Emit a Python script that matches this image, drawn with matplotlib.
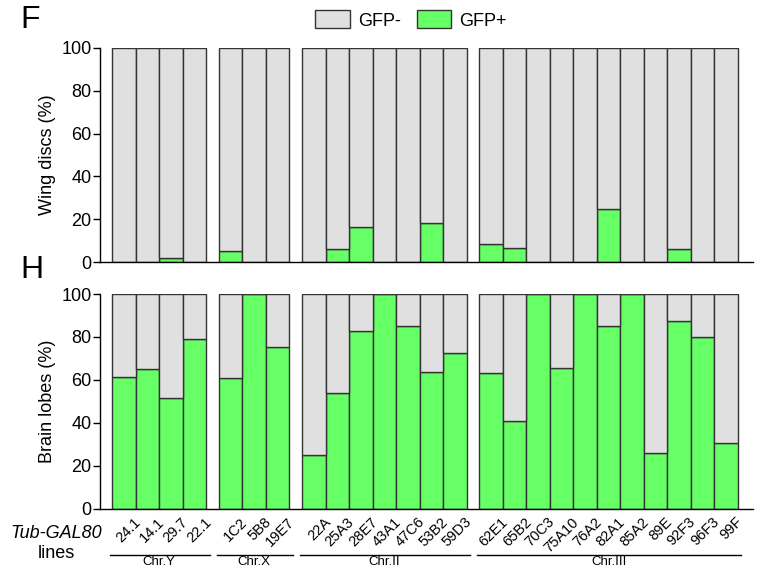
import matplotlib
matplotlib.use("Agg")
import matplotlib.pyplot as plt
from matplotlib.patches import Patch
import matplotlib.transforms as mtransforms
import numpy as np

plt.rcParams['font.family'] = ['Liberation Sans', 'DejaVu Sans']

groups = ["Chr.Y", "Chr.X", "Chr.II", "Chr.III"]
group_lines = [
    ["24.1", "14.1", "29.7", "22.1"],
    ["1C2", "5B8", "19E7"],
    ["22A", "25A3", "28E7", "43A1", "47C6", "53B2", "59D3"],
    ["62E1", "65B2", "70C3", "75A10", "76A2", "82A1", "85A2", "89E", "92F3", "96F3", "99F"],
]
wing_gfp_pos = [0, 0, 2.0, 0,
                5.1, 0, 0,
                0, 6.2, 16.5, 0, 0, 18.2, 0,
                8.4, 6.5, 0, 0, 0, 25.0, 0, 0, 6.2, 0, 0]
brain_gfp_pos = [61.5, 65.1, 51.4, 79.0,
                 60.7, 100, 75.2,
                 25.0, 53.7, 82.6, 100, 85.2, 63.7, 72.4,
                 63.2, 41.0, 100, 65.5, 100, 85.1, 100, 26.1, 87.6, 80.1, 30.6]

GREY = "#E0E0E0"
GREEN = "#66FF66"
EDGE = "#333333"
GAP = 0.54

labels = [l for g in group_lines for l in g]
centers = []
group_spans = []
off = 0.0
for gi, g in enumerate(group_lines):
    start = off
    for j in range(len(g)):
        centers.append(off + j + 0.5)
    off += len(g)
    group_spans.append((start, off))
    off += GAP
centers = np.array(centers)

fig = plt.figure(figsize=(7.6, 5.69), dpi=100)
ax1 = fig.add_axes([0.1316, 0.539, 0.8596, 0.3772])
ax2 = fig.add_axes([0.1316, 0.106, 0.8596, 0.3773])

def draw(ax, pos, ylabel):
    pos = np.array(pos, dtype=float)
    neg = 100 - pos
    ax.bar(centers, pos, width=1.0, color=GREEN, edgecolor=EDGE, linewidth=1.0, zorder=2)
    ax.bar(centers, neg, bottom=pos, width=1.0, color=GREY, edgecolor=EDGE, linewidth=1.0, zorder=2)
    ax.set_xlim(-0.523, 27.28)
    ax.set_ylim(0, 100)
    ax.set_yticks([0, 20, 40, 60, 80, 100])
    for s in ["top", "right"]:
        ax.spines[s].set_visible(False)
    ax.spines["left"].set_linewidth(1.0)
    ax.spines["bottom"].set_linewidth(1.0)
    ax.tick_params(axis="y", labelsize=13, length=5, width=1, pad=1)
    ax.set_ylabel(ylabel, fontsize=13, labelpad=4)

draw(ax1, wing_gfp_pos, "Wing discs (%)")
draw(ax2, brain_gfp_pos, "Brain lobes (%)")

ax1.set_xticks([])
ax2.set_xticks(centers)
ax2.set_xticklabels(labels, rotation=45, ha="right", va="center",
                    rotation_mode="anchor", fontsize=10.5)
ax2.tick_params(axis="x", length=0, pad=8)
shift = mtransforms.ScaledTranslation(10.5/72, 0, fig.dpi_scale_trans)
for t in ax2.get_xticklabels():
    t.set_transform(t.get_transform() + shift)

trans = mtransforms.blended_transform_factory(ax2.transData, ax2.transAxes)
for name, (s, e) in zip(groups, group_spans):
    ax2.plot([s - 0.1, e + 0.15], [-0.2157, -0.2157], color="black", lw=1,
             transform=trans, clip_on=False)
    ax2.text((s + e) / 2, -0.222, name, transform=trans, ha="center", va="top",
             fontsize=9.5)

fig.text(56/760, 1 - 533/569, "Tub-GAL80", fontsize=13, style="italic",
         ha="center", va="center")
fig.text(56/760, 1 - 553/569, "lines", fontsize=13, ha="center", va="center")

fig.text(20/760, 1 - 20/569, "F", fontsize=23, ha="left", va="center")
fig.text(20/760, 1 - 270/569, "H", fontsize=23, ha="left", va="center")

handles = [Patch(facecolor=GREY, edgecolor=EDGE, linewidth=1.0, label="GFP-"),
           Patch(facecolor=GREEN, edgecolor=EDGE, linewidth=1.0, label="GFP+")]
fig.legend(handles=handles, loc="center", bbox_to_anchor=(411/760, 1 - 20/569),
           ncol=2, frameon=False, fontsize=13, handlelength=1.9,
           handleheight=1.15, handletextpad=0.45, columnspacing=0.9,
           borderpad=0.2)

fig.savefig("out.png", dpi=100)
